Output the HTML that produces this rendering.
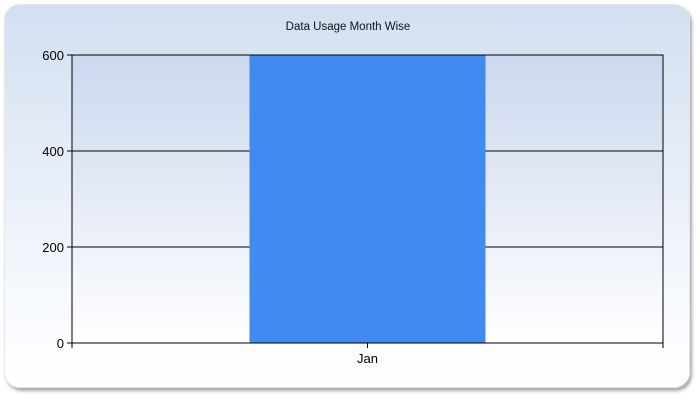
<!DOCTYPE html>
<html><head><style>
body{margin:0;width:700px;height:400px;background:#fff;font-family:"Liberation Sans",sans-serif;overflow:hidden}
#panel{position:absolute;left:4px;top:4px;width:686px;height:384px;border-radius:16px;background:linear-gradient(#d3dff0,#fafcff 85%,#fff);box-shadow:2px 3px 3px #a8a8a8;border:1px solid #e4e8ee;box-sizing:border-box}
svg{position:absolute;left:0;top:0}
</style></head><body>
<div id="panel"></div>
<svg width="700" height="400">
<defs><linearGradient id="pg" x1="0" y1="0" x2="0" y2="1"><stop offset="0" stop-color="#cbd8ee"/><stop offset="1" stop-color="#ffffff"/></linearGradient></defs>
<text x="348" y="30" font-size="11.5" text-anchor="middle" fill="#111">Data Usage Month Wise</text>
<rect x="72" y="55" width="591" height="288" fill="url(#pg)"/>
<g id="g" shape-rendering="crispEdges"></g>
<g id="t"></g>
</svg>
<script>
const categories=["Jan"];
const values=[600];
const ticks=[0,200,400,600];
const L=72,R=663,T=55,B=343,max=600;
const y=v=>B-(v/max)*(B-T);
const bw=(R-L)/categories.length;
const x=i=>L+bw*i;
const g=document.getElementById('g');
const tg=document.getElementById('t');
const ns='http://www.w3.org/2000/svg';
function mk(t,a,p){const e=document.createElementNS(ns,t);for(const k in a)e.setAttribute(k,a[k]);(p||g).appendChild(e);return e;}
ticks.forEach(t=>{
 const l=mk('line',{x1:L-5,x2:R,y1:y(t),y2:y(t),stroke:'#000','stroke-width':1});
 
 
 const tx=mk('text',{x:L-8,y:y(t)+5,'font-size':13,'text-anchor':'end',fill:'#000'},tg);
 tx.textContent=t;
 
 
});
categories.forEach((c,i)=>{
 const w=bw*0.4;
 const r=mk('rect',{x:x(i)+(bw-w)/2,y:y(values[i]),width:w,height:B-y(values[i]),fill:'#418aef'});
 
 
 const tk=mk('line',{x1:x(i)+bw/2,x2:x(i)+bw/2,y1:B,y2:B+5,stroke:'#000'});
 
 
 const t=mk('text',{x:x(i)+bw/2,y:B+20,'font-size':13,'text-anchor':'middle',fill:'#000'},tg);
 t.textContent=c;
 
 
});
[L,R].forEach(xx=>{const t=mk('line',{x1:xx,x2:xx,y1:B,y2:B+5,stroke:'#000'});
 
 });
const f=mk('rect',{x:L,y:T,width:R-L,height:B-T,fill:'none',stroke:'#000'});


</script>
</body></html>
